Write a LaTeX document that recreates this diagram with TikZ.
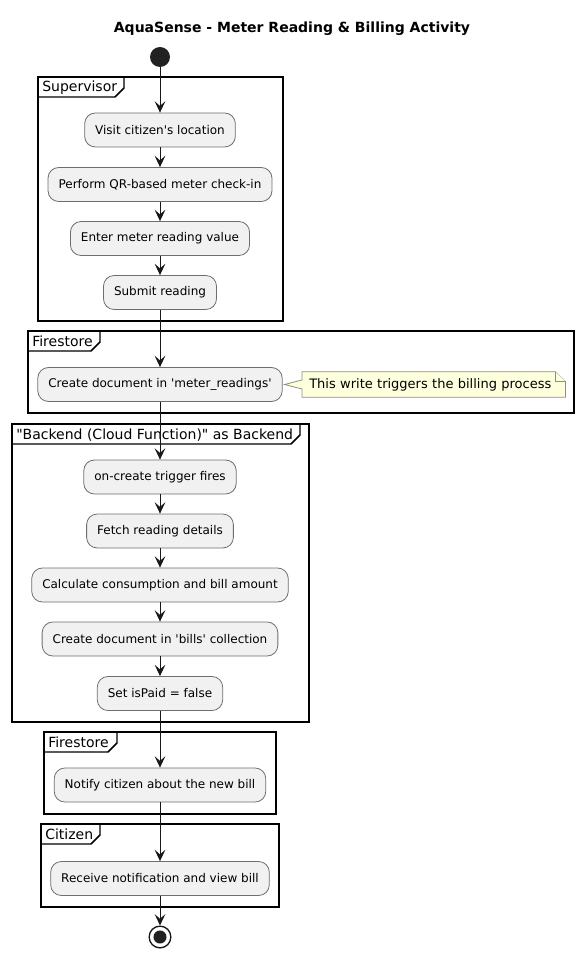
\documentclass[tikz,border=0pt]{standalone}
\usepackage{fontspec}
\setmainfont{DejaVu Sans}
\usetikzlibrary{arrows.meta,backgrounds}
\definecolor{boxfill}{HTML}{F1F1F1}
\definecolor{boxline}{HTML}{6E6E6E}
\definecolor{notefill}{HTML}{FEFFDD}
\definecolor{noteline}{HTML}{8F8F80}
\definecolor{ink}{HTML}{181818}
\definecolor{dot}{HTML}{222222}
\tikzset{
  act/.style={rectangle, draw=boxline, fill=boxfill, line width=0.6pt,
    rounded corners=8pt, minimum height=25.5pt, inner xsep=7.9pt, inner ysep=0pt,
    font=\fontsize{9}{11}\selectfont},
  flow/.style={draw=ink, line width=0.75pt, -{Stealth[length=8.5pt,width=8pt,inset=3.5pt]}},
  frm/.style={draw=black, line width=1.1pt},
  frmlabel/.style={anchor=base west, inner sep=0pt, font=\fontsize{10.5}{12}\selectfont},
  notetext/.style={anchor=west, inner xsep=5.25pt, inner ysep=0pt, text width=186.75pt,
    align=left, minimum height=18.75pt, font=\fontsize{9.75}{11}\selectfont},
  noteshape/.style={draw=noteline, fill=notefill, line width=0.6pt},
}
\newcommand\umlframe[7]{%
  \draw[frm] (#2,#3) rectangle (#4,#5);
  \draw[frm] (#2,#3+20) -- (#6-9,#3+20) -- (#6,#3+11) -- (#6,#3);
  \node[frmlabel] (#1) at (#2+4,#3+15) {#7};
}
\begin{document}
\begin{tikzpicture}[x=0.75pt,y=-0.75pt]
\useasboundingbox (0,0) rectangle (584,959);

\node[anchor=base, font=\bfseries\fontsize{10.5}{12}\selectfont] (title) at (292,33)
  {AquaSense - Meter Reading \& Billing Activity};

% frames
\umlframe{lsup}{38}{77}{283}{321}{124}{Supervisor}
\umlframe{lfs1}{28}{331}{574}{413}{100}{Firestore}
\umlframe{lback}{12}{424}{309}{722}{300}{\textquotedbl Backend (Cloud Function)\textquotedbl{} as Backend}
\umlframe{lfs2}{44}{732}{276}{814}{117}{Firestore}
\umlframe{lcit}{41}{824}{279}{907}{100}{Citizen}

% start / stop
\node[circle, fill=dot, minimum size=15pt, inner sep=0pt] (start) at (160,57) {};
\node[circle, draw=ink, fill=white, line width=1pt, minimum size=16.3pt, inner sep=0pt] (stop) at (160,937) {};
\fill[dot] (stop.center) circle (4.9pt);

% activities
\node[act] (visit)   at (160,130) {Visit citizen\textquotesingle s location};
\node[act] (qr)      at (160,184.5) {Perform QR-based meter check-in};
\node[act] (enter)   at (160,238.5) {Enter meter reading value};
\node[act] (submit)  at (160,292.5) {Submit reading};
\node[act] (mread)   at (160,384.5) {Create document in \textquotesingle meter\_readings\textquotesingle};
\node[act] (trig)    at (160,477) {on-create trigger fires};
\node[act] (fetch)   at (160,531) {Fetch reading details};
\node[act] (calc)    at (160,585) {Calculate consumption and bill amount};
\node[act] (bills)   at (160,639) {Create document in \textquotesingle bills\textquotesingle{} collection};
\node[act] (paid)    at (160,693.5) {Set isPaid = false};
\node[act] (notify)  at (160,785) {Notify citizen about the new bill};
\node[act] (recv)    at (160,878.5) {Receive notification and view bill};

% note
\node[notetext] (note) at (302,384.5) {This write triggers the billing process};
\begin{scope}[on background layer]
  \draw[noteshape] (note.north west) -- ([xshift=-7.5pt]note.north east)
    -- ([yshift=-7.5pt]note.north east) -- (note.south east) -- (note.south west) -- cycle;
  \draw[noteshape] ([xshift=-7.5pt]note.north east) -- ([xshift=-7.5pt,yshift=-7.5pt]note.north east)
    -- ([yshift=-7.5pt]note.north east);
  \coordinate (tip) at ([xshift=1.5pt]mread.east);
  \coordinate (wa) at ([yshift=3.4pt]note.west);
  \coordinate (wb) at ([yshift=-3.4pt]note.west);
  \fill[notefill] (tip) -- ([xshift=0.8pt]wa) -- ([xshift=0.8pt]wb) -- cycle;
  \draw[noteline, line width=0.6pt] (wa) -- (tip) -- (wb);
\end{scope}

% flow
\draw[flow] (start) -- (visit);
\draw[flow] (visit) -- (qr);
\draw[flow] (qr) -- (enter);
\draw[flow] (enter) -- (submit);
\draw[flow] (submit) -- (mread);
\draw[flow] (mread) -- (trig);
\draw[flow] (trig) -- (fetch);
\draw[flow] (fetch) -- (calc);
\draw[flow] (calc) -- (bills);
\draw[flow] (bills) -- (paid);
\draw[flow] (paid) -- (notify);
\draw[flow] (notify) -- (recv);
\draw[flow] (recv) -- (stop);
\end{tikzpicture}
\end{document}
